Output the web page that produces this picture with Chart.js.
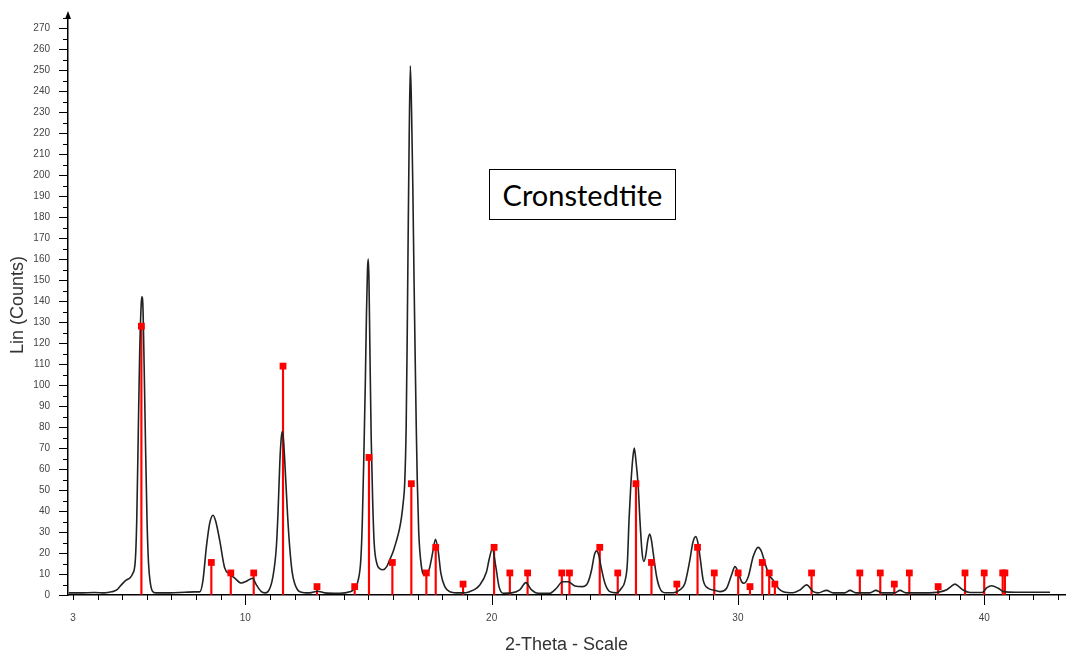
<!DOCTYPE html>
<html>
<head>
<meta charset="utf-8">
<title>Cronstedtite</title>
<script src="https://cdn.jsdelivr.net/npm/chart.js@4.4.1/dist/chart.umd.min.js"></script>
<style>
    body { margin: 0; background: #fff; }
    #area { position: relative; width: 1071px; height: 656px; }
    #rotulo {
        position: absolute; left: 489px; top: 169px; width: 185px; height: 49px;
        border: 1.5px solid #000; background: #fff; color: #000;
        font-family: Lato, "Open Sans", sans-serif; font-size: 29px;
        display: flex; align-items: center; justify-content: center;
    }
</style>
</head>
<body>
<div id="area">
    <canvas id="myChart" width="1071" height="656"></canvas>
    <div id="rotulo">Cronstedtite</div>
</div>
<script>
// difratograma medido (2-theta em graus, contagens)
const perfilTheta = [
    2.83, 3.27, 3.88, 4.29, 4.57, 4.78, 4.94, 5.10, 5.22, 5.30, 5.42, 5.53, 5.59, 5.65, 5.71, 5.77, 5.80, 5.84, 5.89, 5.95,
    6.01, 6.07, 6.14, 6.22, 6.36, 6.93, 7.54, 7.94, 8.15, 8.28, 8.42, 8.55, 8.69, 8.80, 8.96, 9.16, 9.36, 9.57, 9.84, 10.04,
    10.29, 10.45, 10.65, 10.79, 10.92, 11.12, 11.26, 11.33, 11.40, 11.46, 11.51, 11.56, 11.64, 11.72, 11.80, 11.90, 12.00, 12.21, 12.61, 12.94,
    13.22, 13.83, 14.24, 14.37, 14.58, 14.69, 14.75, 14.81, 14.87, 14.92, 14.96, 14.99, 15.02, 15.06, 15.11, 15.17, 15.23, 15.34, 15.46, 15.59,
    15.74, 15.86, 16.01, 16.14, 16.25, 16.34, 16.41, 16.47, 16.53, 16.57, 16.61, 16.65, 16.70, 16.75, 16.80, 16.85, 16.90, 16.94, 16.98, 17.04,
    17.15, 17.29, 17.46, 17.62, 17.72, 17.83, 17.94, 18.10, 18.30, 18.71, 19.11, 19.52, 19.79, 19.90, 20.03, 20.17, 20.30, 20.47, 20.82, 21.14,
    21.39, 21.62, 21.89, 22.36, 22.63, 22.88, 23.11, 23.38, 23.71, 23.91, 24.06, 24.17, 24.26, 24.35, 24.45, 24.60, 24.80, 25.07, 25.27, 25.41,
    25.51, 25.58, 25.65, 25.73, 25.79, 25.85, 25.95, 26.02, 26.11, 26.18, 26.26, 26.34, 26.42, 26.49, 26.56, 26.70, 26.83, 27.03, 27.37, 27.64,
    27.85, 28.05, 28.17, 28.29, 28.39, 28.46, 28.59, 28.79, 29.00, 29.27, 29.54, 29.74, 29.88, 30.01, 30.15, 30.25, 30.42, 30.62, 30.82, 30.96,
    31.10, 31.27, 31.43, 31.64, 31.84, 32.24, 32.52, 32.79, 33.06, 33.25, 33.60, 33.86, 34.34, 34.55, 34.79, 35.36, 35.60, 35.85, 36.37, 36.58,
    36.82, 37.59, 38.20, 38.48, 38.65, 38.81, 38.97, 39.14, 39.42, 39.91, 40.11, 40.30, 40.57, 40.80, 41.25, 42.67
];
const perfilContagens = [
    1, 1, 1.2, 1, 1.5, 2.4, 4.5, 6.5, 7.5, 8, 10, 16, 35, 75, 115, 138, 142, 138, 110, 70,
    35, 15, 6, 2, 1, 1, 1.3, 1.5, 1.5, 7, 23, 34, 38, 35, 26, 13, 10, 8, 5.7, 6.5,
    8, 4.8, 1.6, 1, 1.6, 8.7, 23, 40, 63, 75, 78, 72, 55, 37, 23, 11, 5.6, 1.6, 1, 1.8,
    1, 0.8, 1.5, 2.4, 7, 17, 35, 65, 100, 135, 155, 160, 150, 115, 75, 45, 25, 15, 12.5, 12,
    13.5, 16.7, 21, 26, 31, 37, 44, 53, 80, 120, 170, 215, 252, 230, 195, 150, 110, 80, 55, 30,
    13.5, 9.5, 12, 21, 26.5, 21, 10.3, 4, 1.6, 1, 1.6, 4.8, 11, 17, 22, 13.5, 4, 0.8, 1, 2.4,
    5.9, 2.4, 0.8, 0.8, 3.2, 6.3, 6.3, 4.3, 4, 6, 12, 19, 21, 19, 13, 5.6, 1.6, 1, 3.2, 6.5,
    15, 36, 52, 65, 70, 65, 52, 36, 20, 16, 19, 26, 29, 26, 20, 8.7, 3.2, 1.1, 1.1, 2.4,
    5.6, 16.7, 25, 27.8, 24, 18.3, 7.1, 3.2, 2.4, 1.6, 3.2, 9.5, 13.5, 11, 6.3, 5.6, 8.7, 18.3, 22.7, 20.6,
    15.1, 9.5, 7.1, 3.2, 1.6, 1.1, 2.4, 4.8, 1.6, 1, 2.2, 1, 1, 2.2, 1, 1, 2.2, 1, 1, 2.2,
    1, 1, 1.5, 2.5, 4, 5.2, 4, 2.4, 1.2, 1.2, 3.5, 4.4, 3.2, 1.6, 1.3, 1.3
];

// linhas de referencia (posicao e intensidade)
const picosTheta = [
    5.78, 8.62, 9.41, 10.34, 11.53, 12.91, 14.44, 15.02, 15.97, 16.74, 17.35, 17.73, 18.84, 20.10, 20.74, 21.46, 22.85, 23.16, 24.39, 25.12,
    25.86, 26.49, 27.52, 28.36, 29.04, 30.01, 30.49, 30.99, 31.27, 31.50, 32.99, 34.95, 35.78, 36.35, 36.96, 38.13, 39.22, 40.00, 40.75, 40.84
];
const picosIntensidade = [
    128, 15.5, 10.5, 10.5, 109, 4, 4, 65.5, 15.5, 53, 10.5, 22.7, 5.2, 22.7, 10.5, 10.5, 10.5, 10.5, 22.7, 10.5,
    53, 15.5, 5.2, 22.7, 10.5, 10.5, 4, 15.5, 10.5, 5.2, 10.5, 10.5, 10.5, 5.2, 10.5, 4, 10.5, 10.5, 10.5, 10.5
];

// marcas dos eixos
const ticksX = [3, 4, 5, 6, 7, 8, 9, 10, 11, 12, 13, 14, 15, 16, 17, 18, 19, 20, 21, 22, 23, 24, 25, 26, 27, 28, 29, 30, 31, 32, 33, 34, 35, 36, 37, 38, 39, 40, 41, 42, 43];
const rotulosX = [3, 10, 20, 30, 40];
const ticksY = [0, 5, 10, 15, 20, 25, 30, 35, 40, 45, 50, 55, 60, 65, 70, 75, 80, 85, 90, 95, 100, 105, 110, 115, 120, 125, 130, 135,
    140, 145, 150, 155, 160, 165, 170, 175, 180, 185, 190, 195, 200, 205, 210, 215, 220, 225, 230, 235, 240, 245, 250, 255, 260, 265, 270, 275];

function montarPontos(xs, ys) {
    let pontos = [];
    for (let i = 0; i < xs.length; i++) {
        pontos.push({ x: xs[i], y: ys[i] });
    }
    return pontos;
}

// desenha os tracinhos dos eixos e a seta do eixo y
const marcasEixos = {
    id: 'marcasEixos',
    afterDraw(chart) {
        const ctx = chart.ctx;
        const eixoX = chart.scales.x;
        const eixoY = chart.scales.y;
        ctx.save();
        ctx.strokeStyle = '#000';
        ctx.lineWidth = 1;

        ticksY.forEach(function (v) {
            const py = Math.round(eixoY.getPixelForValue(v)) + 0.5;
            const tam = v % 10 === 0 ? 9 : 5;
            ctx.beginPath();
            ctx.moveTo(eixoY.right - tam, py);
            ctx.lineTo(eixoY.right, py);
            ctx.stroke();
        });

        ticksX.forEach(function (v) {
            const px = Math.round(eixoX.getPixelForValue(v)) + 0.5;
            const tam = v % 10 === 0 ? 10 : 5;
            ctx.beginPath();
            ctx.moveTo(px, eixoX.top);
            ctx.lineTo(px, eixoX.top + tam);
            ctx.stroke();
        });

        const topo = chart.chartArea.top;
        ctx.fillStyle = '#000';
        ctx.beginPath();
        ctx.moveTo(eixoY.right, topo - 4);
        ctx.lineTo(eixoY.right - 3, topo + 4);
        ctx.lineTo(eixoY.right + 3, topo + 4);
        ctx.closePath();
        ctx.fill();
        ctx.restore();
    }
};

const fonteTicks = { family: '"Liberation Sans", Arial, sans-serif', size: 10 };
const fonteTitulo = { family: '"Liberation Sans", Arial, sans-serif', size: 18 };

// os tracinhos do chart.js ficam invisiveis, so servem para afastar os rotulos
const gradeInvisivel = {
    drawOnChartArea: false,
    drawTicks: true,
    tickColor: 'rgba(0,0,0,0)',
    offset: false
};

const config = {
    type: 'line',
    data: {
        datasets: [
            {
                type: 'scatter',
                label: 'marcadores',
                data: montarPontos(picosTheta, picosIntensidade),
                pointStyle: 'rect',
                pointRadius: 4.8,
                pointBackgroundColor: '#ff0000',
                pointBorderWidth: 0,
                order: 0
            },
            {
                label: 'Cronstedtite',
                data: montarPontos(perfilTheta, perfilContagens),
                borderColor: '#222',
                borderWidth: 1.6,
                pointRadius: 0,
                fill: false,
                cubicInterpolationMode: 'monotone',
                order: 1
            },
            {
                type: 'bar',
                label: 'linhas',
                data: montarPontos(picosTheta, picosIntensidade),
                backgroundColor: '#ff0000',
                barThickness: 1.5,
                order: 2
            }
        ]
    },
    options: {
        responsive: false,
        animation: false,
        layout: { padding: { top: 15, right: 6, left: 0, bottom: 0 } },
        plugins: {
            legend: { display: false },
            tooltip: { enabled: false }
        },
        scales: {
            x: {
                type: 'linear',
                min: 2.8,
                max: 43.28,
                offset: false,
                grid: Object.assign({}, gradeInvisivel, { tickLength: 17 }),
                border: { color: '#000', width: 1.5 },
                afterBuildTicks: function (scale) {
                    scale.ticks = ticksX.map(function (v) { return { value: v }; });
                },
                afterFit: function (scale) { scale.height = 61; },
                ticks: {
                    autoSkip: false,
                    maxRotation: 0,
                    padding: 0,
                    color: '#444',
                    font: fonteTicks,
                    callback: function (v) { return rotulosX.includes(v) ? String(v) : ''; }
                },
                title: {
                    display: true,
                    text: '2-Theta - Scale',
                    color: '#333',
                    font: fonteTitulo,
                    padding: { top: 0, bottom: 0.5 }
                }
            },
            y: {
                min: 0,
                max: 276.2,
                grid: Object.assign({}, gradeInvisivel, { tickLength: 18 }),
                border: { color: '#000', width: 1.5 },
                afterBuildTicks: function (scale) {
                    scale.ticks = ticksY.map(function (v) { return { value: v }; });
                },
                afterFit: function (scale) { scale.width = 68; },
                ticks: {
                    autoSkip: false,
                    padding: 0,
                    color: '#444',
                    font: fonteTicks,
                    callback: function (v) { return v % 10 === 0 ? String(v) : ''; }
                },
                title: {
                    display: true,
                    text: 'Lin (Counts)',
                    color: '#333',
                    font: fonteTitulo,
                    padding: { top: 7.2, bottom: 0 }
                }
            }
        }
    },
    plugins: [marcasEixos]
};

const myChart = new Chart(document.getElementById('myChart'), config);
console.log('grafico pronto');
</script>
</body>
</html>
